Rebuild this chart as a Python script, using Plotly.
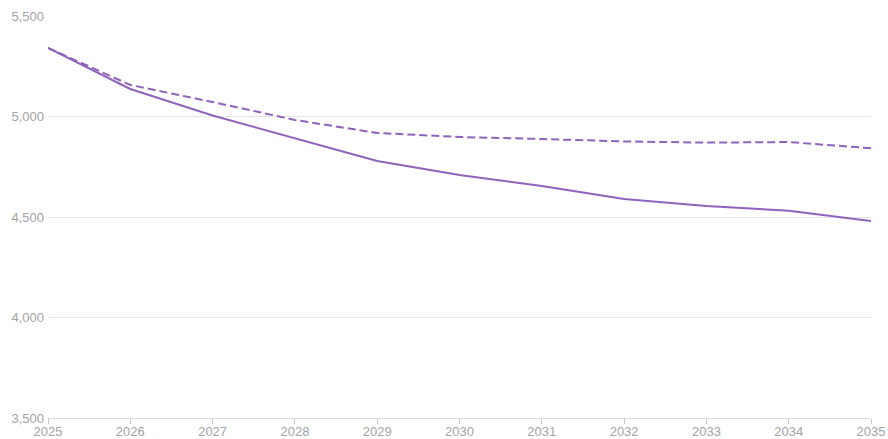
import plotly.graph_objects as go

years = [2025, 2026, 2027, 2028, 2029, 2030, 2031, 2032, 2033, 2034, 2035]
solid_values = [5341, 5137, 5005, 4893, 4779, 4709, 4654, 4590, 4555, 4531, 4480]
dashed_values = [5341, 5157, 5072, 4983, 4918, 4898, 4888, 4876, 4870, 4873, 4842]
y_ticks = [3500, 4000, 4500, 5000, 5500]

line_color = "#8e63bb"

fig = go.Figure()
fig.add_trace(go.Scatter(x=years, y=dashed_values, mode="lines",
                         line=dict(color=line_color, width=2, dash="8px,4px"),
                         showlegend=False, hoverinfo="skip"))
fig.add_trace(go.Scatter(x=years, y=solid_values, mode="lines",
                         line=dict(color=line_color, width=2),
                         showlegend=False, hoverinfo="skip"))

fig.update_layout(
    width=888, height=439,
    margin=dict(l=48, r=17, t=16, b=21, autoexpand=False),
    paper_bgcolor="white", plot_bgcolor="white",
    font=dict(family="Liberation Sans, Arial, sans-serif", size=13, color="#a3a3a8"),
)
fig.update_xaxes(
    range=[2025, 2035], tickvals=years, ticktext=[str(y) for y in years],
    showgrid=False, showline=True, linecolor="#dcdcdc", linewidth=1,
    ticks="outside", ticklen=5, tickcolor="#c8c8c8", zeroline=False,
    ticklabelstandoff=-4, automargin=False,
)
fig.update_yaxes(
    range=[3500, 5500], tickvals=y_ticks, tickformat=",",
    showgrid=True, gridcolor="#e6e6e6", gridwidth=1,
    showline=False, zeroline=False, ticks="", ticklabelstandoff=3,
    automargin=False,
)

fig.write_html("out.html", config={"displayModeBar": False},
               post_script="document.body.style.margin='0px';document.body.style.overflow='hidden';")
